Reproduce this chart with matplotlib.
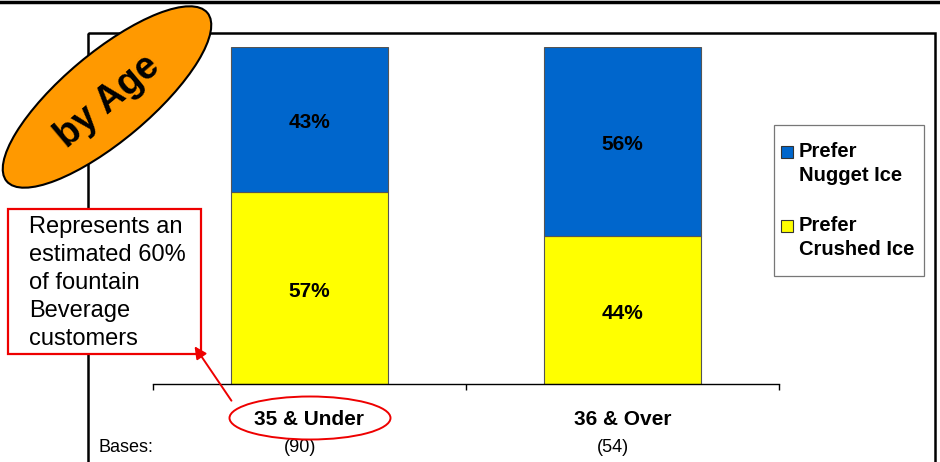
import matplotlib
matplotlib.use('Agg')
import matplotlib.pyplot as plt
from matplotlib.patches import Ellipse, Rectangle, FancyArrowPatch
import matplotlib.transforms as mtransforms

# data
groups = ['35 & Under', '36 & Over']
bases = ['(90)', '(54)']
crushed = [57, 44]
nugget = [43, 56]
series = ['Prefer\nNugget Ice', 'Prefer\nCrushed Ice']

blue = '#0066CC'
yellow = '#FFFF00'
font = ['Liberation Sans', 'DejaVu Sans']

W, H = 940, 462
fig = plt.figure(figsize=(W / 100, H / 100), dpi=100)

# main bar axes
ax = fig.add_axes([153 / W, (H - 384) / H, (779 - 153) / W, (384 - 47) / H])
x = [0.5, 1.5]
ax.bar(x, crushed, width=0.5, color=yellow, edgecolor='#555555', linewidth=0.8)
ax.bar(x, nugget, width=0.5, bottom=crushed, color=blue, edgecolor='#555555', linewidth=0.8)
for xi, c, n in zip(x, crushed, nugget):
    ax.text(xi, c / 2 - 1, f'{c}%', ha='center', va='center', fontsize=15,
            fontweight='bold', family=font)
    ax.text(xi, c + n / 2 - 1, f'{n}%', ha='center', va='center', fontsize=15,
            fontweight='bold', family=font)

ax.set_xlim(0, 2)
ax.set_ylim(0, 100)
ax.set_facecolor('none')
for s in ['top', 'right', 'left']:
    ax.spines[s].set_visible(False)
ax.spines['bottom'].set_linewidth(1.0)
ax.set_yticks([])
ax.set_xticks([0, 1, 2])
ax.set_xticklabels([])
ax.tick_params(axis='x', which='major', length=4, width=1, direction='out')
ax.set_xticks(x, minor=True)
ax.set_xticklabels(groups, minor=True, fontsize=15, fontweight='bold', family=font)
ax.tick_params(axis='x', which='minor', length=0, pad=19)

# bases row
trans = mtransforms.blended_transform_factory(ax.transData, fig.transFigure)
for xi, b in zip(x, bases):
    ax.text(xi - 0.03, 1 - 447 / H, b, transform=trans, ha='center', va='center',
            fontsize=13, family=font)

# overlay in pixel coordinates for decorations
ov = fig.add_axes([0, 0, 1, 1], zorder=5)
ov.set_xlim(0, W)
ov.set_ylim(H, 0)
ov.axis('off')
ov.patch.set_alpha(0)

ov.plot([0, W], [1.5, 1.5], color='black', lw=2.5)
ov.add_patch(Rectangle((88, 33), 935 - 88, 460, fill=False, edgecolor='black', lw=1.8))

# legend box
ov.add_patch(Rectangle((774, 125), 150, 151, facecolor='white', edgecolor='#777777', lw=0.9))
for i, (lab, col) in enumerate(zip(series, [blue, yellow])):
    y0 = 152 + i * 74
    ov.add_patch(Rectangle((781, y0 - 6), 12, 12, facecolor=col, edgecolor='#333333', lw=0.8))
    ov.text(799, y0 - 10, lab, ha='left', va='top', fontsize=14.5, fontweight='bold',
            family=font, linespacing=1.35)

ov.add_patch(Ellipse((107, 97), 262, 88, angle=-40, facecolor='#FF9900',
                     edgecolor='black', lw=1.5, zorder=3))
ov.text(108, 101, 'by Age', rotation=40, ha='center', va='center', fontsize=27,
        fontweight='bold', family=font, zorder=4)

ov.add_patch(Rectangle((8, 209), 193, 145, facecolor='white', edgecolor='#EE0000',
                       lw=1.6, zorder=3))
note = ['Represents an', 'estimated 60%', 'of fountain', 'Beverage', 'customers']
for i, line in enumerate(note):
    ov.text(29, 227 + i * 28, line, ha='left', va='center', fontsize=17,
            family=font, zorder=4)

ov.add_patch(Ellipse((310, 418), 161, 43, facecolor='none', edgecolor='#EE0000',
                     lw=1.4, zorder=4))
ov.add_patch(FancyArrowPatch((233, 403), (193, 344), arrowstyle='-|>', mutation_scale=18,
                             color='#EE0000', lw=1.4, zorder=4))

ov.text(98, 447, 'Bases:', ha='left', va='center', fontsize=13, family=font)

fig.savefig('out.png', dpi=100)
